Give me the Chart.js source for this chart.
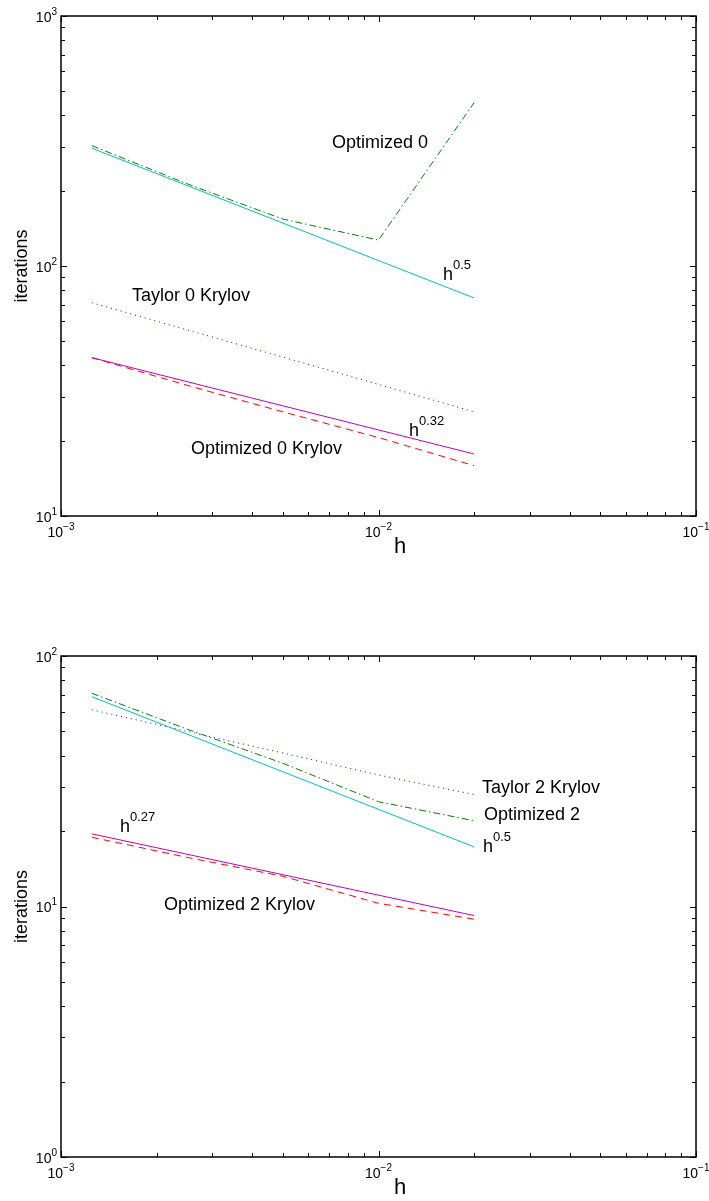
<!DOCTYPE html>
<html>
<head>
<meta charset="utf-8">
<script src="https://cdn.jsdelivr.net/npm/chart.js@4.4.1/dist/chart.umd.min.js"></script>
<style>
  body { margin: 0; background: #fff; }
  #wrap { position: relative; width: 709px; height: 1201px; }
  canvas { position: absolute; left: 0; }
</style>
</head>
<body>
<div id="wrap">
  <canvas id="top" width="709" height="600" style="top:0"></canvas>
  <canvas id="bottom" width="709" height="601" style="top:600px"></canvas>
</div>
<script>
// mesh sizes
const hData = [1/800, 1/400, 1/200, 1/100, 1/50];
const hRef = [1/800, 1/50];

// top panel
const optimized0 = [303, 213, 154, 127, 450];
const taylor0Krylov = [71.3, 55.5, 43.2, 33.6, 26.1];
const optimized0Krylov = [43, 33.3, 26.1, 20.6, 15.9];
const refHalfTop = [296, 74.5];
const ref032Top = [43, 17.7];

// bottom panel
const optimized2 = [71, 51, 37.3, 26.2, 22];
const taylor2Krylov = [61, 50, 41, 33.5, 28];
const optimized2Krylov = [18.9, 15.7, 13.2, 10.3, 8.9];
const refHalfBottom = [68.8, 17.3];
const ref027Bottom = [19.5, 9.2];

// axis ticks (decade exponents)
const xTickExps = [-3, -2, -1];
const yTickExpsTop = [1, 2, 3];
const yTickExpsBottom = [0, 1, 2];

const FONT = '"Liberation Sans", Arial, Helvetica, sans-serif';

function pts(xs, ys) {
  return xs.map((x, i) => ({ x: x, y: ys[i] }));
}

function line(data, color, dash) {
  return {
    data: data,
    showLine: true,
    borderColor: color,
    borderWidth: 1,
    borderDash: dash || [],
    pointRadius: 0,
    fill: false,
    tension: 0
  };
}

// draws "base" with a raised "sup"; align: 'left' | 'center' | 'right'
function drawPow(ctx, base, sup, x, y, size, supSize, rise, align) {
  ctx.font = size + 'px ' + FONT;
  const wb = ctx.measureText(base).width;
  ctx.font = supSize + 'px ' + FONT;
  const ws = sup ? ctx.measureText(sup).width : 0;
  let x0 = x;
  if (align === 'center') x0 = x - (wb + ws) / 2;
  if (align === 'right') x0 = x - (wb + ws);
  ctx.textAlign = 'left';
  ctx.textBaseline = 'middle';
  ctx.font = size + 'px ' + FONT;
  ctx.fillText(base, x0, y);
  if (sup) {
    ctx.font = supSize + 'px ' + FONT;
    ctx.fillText(sup, x0 + wb, y - rise);
  }
}

function framePlugin(opts) {
  return {
    id: 'frame',
    afterDraw(chart) {
      const ctx = chart.ctx;
      const a = chart.chartArea;
      const xs = chart.scales.x, ys = chart.scales.y;
      ctx.save();
      ctx.strokeStyle = '#000';
      ctx.fillStyle = '#000';
      ctx.lineWidth = 1.5;
      ctx.strokeRect(a.left, a.top, a.right - a.left, a.bottom - a.top);

      ctx.lineWidth = 1;
      ctx.beginPath();
      // x ticks, inside, bottom and top
      for (let i = 0; i < opts.xExps.length; i++) {
        const d = opts.xExps[i];
        for (let m = 1; m <= 9; m++) {
          if (m > 1 && i === opts.xExps.length - 1) break;
          const px = Math.round(xs.getPixelForValue(m * Math.pow(10, d))) + 0.5;
          const len = m === 1 ? 6 : 4;
          ctx.moveTo(px, a.bottom); ctx.lineTo(px, a.bottom - len);
          ctx.moveTo(px, a.top); ctx.lineTo(px, a.top + len);
        }
      }
      // y ticks, inside, left and right
      for (let i = 0; i < opts.yExps.length; i++) {
        const d = opts.yExps[i];
        for (let m = 1; m <= 9; m++) {
          if (m > 1 && i === opts.yExps.length - 1) break;
          const py = Math.round(ys.getPixelForValue(m * Math.pow(10, d))) + 0.5;
          const len = m === 1 ? 6 : 4;
          ctx.moveTo(a.left, py); ctx.lineTo(a.left + len, py);
          ctx.moveTo(a.right, py); ctx.lineTo(a.right - len, py);
        }
      }
      ctx.stroke();

      // tick labels
      opts.xExps.forEach(d => {
        const px = xs.getPixelForValue(Math.pow(10, d));
        drawPow(ctx, '10', '\u2212' + Math.abs(d), px, a.bottom + 17, 14, 10, 6, 'center');
      });
      opts.yExps.forEach(d => {
        const py = ys.getPixelForValue(Math.pow(10, d));
        drawPow(ctx, '10', String(d), a.left - 4, py + 2, 14, 10, 6, 'right');
      });

      // axis titles
      ctx.font = '22px ' + FONT;
      ctx.textAlign = 'center';
      ctx.textBaseline = 'middle';
      ctx.fillText('h', 400, a.bottom + 31);
      ctx.save();
      ctx.translate(22, (a.top + a.bottom) / 2);
      ctx.rotate(-Math.PI / 2);
      ctx.font = '18px ' + FONT;
      ctx.fillText('iterations', 0, 0);
      ctx.restore();

      // curve annotations
      opts.notes.forEach(n => {
        drawPow(ctx, n.text, n.sup, n.x, n.y, 18, 13, 10, 'left');
      });
      ctx.restore();
    }
  };
}

function makeChart(id, datasets, yMin, yMax, pad, plugOpts) {
  return new Chart(document.getElementById(id), {
    type: 'scatter',
    data: { datasets: datasets },
    options: {
      responsive: false,
      animation: false,
      devicePixelRatio: 1,
      layout: { padding: pad },
      plugins: { legend: { display: false }, tooltip: { enabled: false } },
      scales: {
        x: { type: 'logarithmic', min: 0.001, max: 0.1, display: false },
        y: { type: 'logarithmic', min: yMin, max: yMax, display: false }
      }
    },
    plugins: [framePlugin(plugOpts)]
  });
}

makeChart('top', [
  line(pts(hData, optimized0), '#008000', [7, 3, 1.5, 3]),
  line(pts(hRef, refHalfTop), '#00bfbf'),
  line(pts(hData, taylor0Krylov), '#0000ff', [1, 4]),
  line(pts(hRef, ref032Top), '#bf00bf'),
  line(pts(hData, optimized0Krylov), '#ff0000', [7, 5])
], 10, 1000, { left: 61, right: 13, top: 16, bottom: 84 }, {
  xExps: xTickExps,
  yExps: yTickExpsTop,
  notes: [
    { text: 'Optimized 0', x: 332, y: 143 },
    { text: 'h', sup: '0.5', x: 443, y: 275 },
    { text: 'Taylor 0 Krylov', x: 132, y: 296 },
    { text: 'h', sup: '0.32', x: 409, y: 431 },
    { text: 'Optimized 0 Krylov', x: 191, y: 449 }
  ]
});

makeChart('bottom', [
  line(pts(hData, optimized2), '#008000', [7, 3, 1.5, 3]),
  line(pts(hRef, refHalfBottom), '#00bfbf'),
  line(pts(hData, taylor2Krylov), '#0000ff', [1, 4]),
  line(pts(hRef, ref027Bottom), '#bf00bf'),
  line(pts(hData, optimized2Krylov), '#ff0000', [7, 5])
], 1, 100, { left: 61, right: 13, top: 56, bottom: 44 }, {
  xExps: xTickExps,
  yExps: yTickExpsBottom,
  notes: [
    { text: 'Taylor 2 Krylov', x: 482, y: 188 },
    { text: 'Optimized 2', x: 484, y: 215 },
    { text: 'h', sup: '0.5', x: 483, y: 247 },
    { text: 'h', sup: '0.27', x: 120, y: 227 },
    { text: 'Optimized 2 Krylov', x: 164, y: 305 }
  ]
});
</script>
</body>
</html>
